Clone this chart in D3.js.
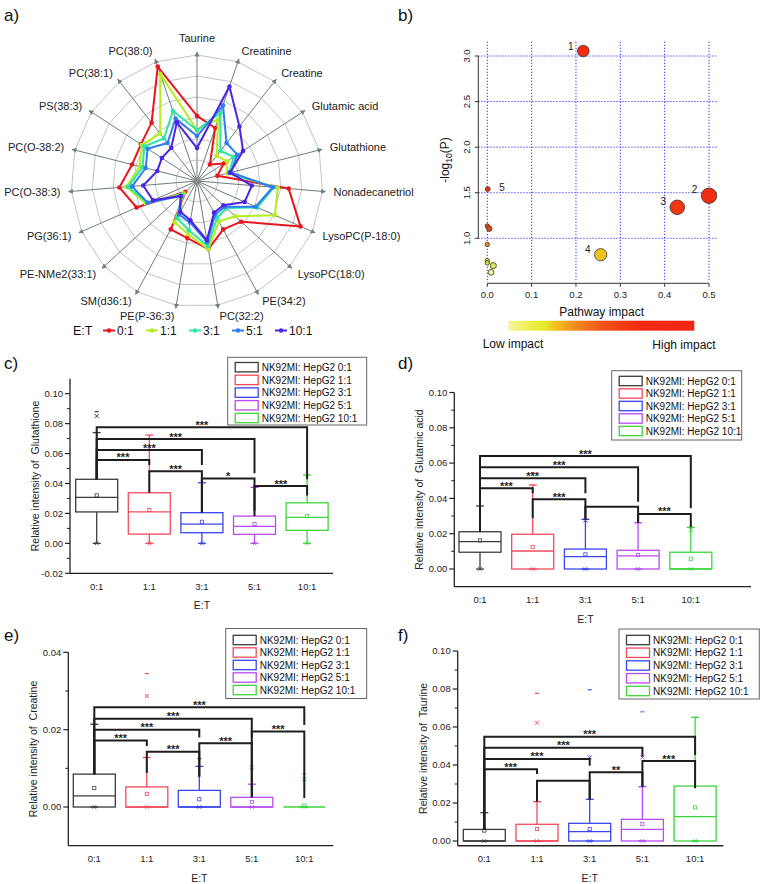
<!DOCTYPE html>
<html><head><meta charset="utf-8">
<script src="https://cdn.jsdelivr.net/npm/d3@7"></script>
<style>
body{margin:0;background:#fff;}
svg{font-family: Arial, "Liberation Sans", sans-serif;}
</style></head><body>
<svg id="chart" width="773" height="884"></svg>
<script>
// ================= DATA =================
// Panel a: radar
const radarAxes = ["Taurine","Creatinine","Creatine","Glutamic acid","Glutathione","Nonadecanetriol","LysoPC(P-18:0)","LysoPC(18:0)","PE(34:2)","PC(32:2)","PE(P-36:3)","SM(d36:1)","PE-NMe2(33:1)","PG(36:1)","PC(O-38:3)","PC(O-38:2)","PS(38:3)","PC(38:1)","PC(38:0)"];
const radarSeriesNames = ["0:1","1:1","3:1","5:1","10:1"];
const radarET01  = [3.10, 2.67, 1.00, 1.52, 1.00, 4.38, 5.38, 2.86, 2.62, 3.29, 2.76, 2.62, 0.76, 3.14, 3.71, 3.19, 3.19, 3.52, 5.76];
const radarET11  = [2.43, 3.10, 1.52, 1.71, 1.48, 3.86, 4.05, 2.48, 2.19, 3.29, 2.57, 2.24, 0.86, 2.67, 3.38, 2.81, 3.14, 2.86, 5.38];
const radarET31  = [2.43, 3.43, 1.81, 2.10, 1.57, 3.67, 3.14, 1.90, 2.00, 3.14, 2.38, 2.00, 0.95, 2.57, 3.29, 2.67, 3.00, 2.57, 3.52];
const radarET51  = [2.14, 3.81, 2.29, 2.29, 1.67, 3.62, 3.05, 1.81, 1.81, 2.95, 2.00, 1.81, 1.05, 2.57, 3.10, 2.52, 2.81, 2.29, 3.14];
const radarET101 = [1.57, 4.76, 3.29, 2.62, 1.62, 2.62, 2.48, 1.71, 1.71, 2.86, 1.90, 1.67, 1.05, 2.29, 2.57, 1.95, 2.00, 2.00, 2.95];

// Panel b: pathway impact bubbles
const pathImpact = [0.2165, 0.5, 0.4285, 0.2557, 0.001, 0, 0.0045, 0, 0, 0, 0.0135, 0.0085];
const pathLogP   = [3.055, 1.467, 1.34, 0.82, 1.54, 1.135, 1.105, 0.933, 0.755, 0.73, 0.70, 0.627];
const pathLabel  = ["1","2","3","4","5","","","","","","",""];
const bXTicks = [0, 0.1, 0.2, 0.3, 0.4, 0.5];
const bYTicks = [1.0, 1.5, 2.0, 2.5, 3.0];

// Box plots (c-f)
const boxCats = ["0:1","1:1","3:1","5:1","10:1"];
const boxGroups = ["NK92MI: HepG2 0:1","NK92MI: HepG2 1:1","NK92MI: HepG2 3:1","NK92MI: HepG2 5:1","NK92MI: HepG2 10:1"];

// c) Glutathione
const gshQ1   = [0.0210, 0.0062, 0.0071, 0.0060, 0.0087];
const gshMed  = [0.0307, 0.0211, 0.0129, 0.0113, 0.0174];
const gshQ3   = [0.0428, 0.0338, 0.0205, 0.0182, 0.0271];
const gshMean = [0.0320, 0.0222, 0.0144, 0.0129, 0.0182];
const gshLow  = [0, 0, 0, 0, 0];
const gshHigh = [0.0740, 0.0724, 0.0405, 0.0374, 0.0456];
const gshOut  = [[0, 0.085, "x"], [0, 0.088, "-"]];
const gshSig  = [[0,1,0.0557,0.0428,0.0523,"***"],[0,2,0.0623,0.0428,0.0523,"***"],[0,3,0.0697,0.0428,0.0468,"***"],[0,4,0.0775,0.0428,0.0428,"***"],[1,2,0.0481,0.0338,0.0205,"***"],[2,3,0.0433,0.0205,0.0220,"*"],[3,4,0.0383,0.0182,0.0320,"***"]];

// d) Glutamic acid
const gluQ1   = [0.0095, 0, 0, 0, 0];
const gluMed  = [0.0155, 0.0102, 0.0070, 0.0074, 0];
const gluQ3   = [0.0211, 0.0197, 0.0113, 0.0106, 0.0095];
const gluMean = [0.0162, 0.0125, 0.0083, 0.0079, 0.0058];
const gluLow  = [0, 0, 0, 0, 0];
const gluHigh = [0.0357, 0.0476, 0.0281, 0.0262, 0.0236];
const gluOut  = [[1, 0.0546, "-"], [2, 0.0275, "x"], [4, 0.0222, "x"]];
const gluSig  = [[0,1,0.0457,0.0211,0.0429,"***"],[0,2,0.0514,0.0211,0.0429,"***"],[0,3,0.0576,0.0211,0.0381,"***"],[0,4,0.0640,0.0211,0.0344,"***"],[1,2,0.0395,0.0287,0.0280,"***"],[2,3,0.0353,0.0280,0.0262,""],[3,4,0.0312,0.0262,0.0236,"***"]];

// e) Creatine
const creQ1   = [0, 0, 0, 0, 0];
const creMed  = [0.0029, 0, 0, 0, 0];
const creQ3   = [0.0085, 0.0052, 0.0043, 0.0025, 0];
const creMean = [0.0049, 0.0034, 0.0020, 0.0013, 0.0004];
const creLow  = [0, 0, 0, 0, 0];
const creHigh = [0.0214, 0.0128, 0.0105, 0.0059, 0];
const creOut  = [[1, 0.0287, "x"], [1, 0.0345, "-"], [2, 0.0125, "-"], [3, 0.0102, "x"], [4, 0.0072, "x"], [4, 0.0086, "-"]];
const creSig  = [[0,1,0.0172,0.0085,0.0158,"***"],[0,2,0.0200,0.0085,0.0180,"***"],[0,3,0.0228,0.0085,0.0180,"***"],[0,4,0.0258,0.0085,0.0212,"***"],[1,2,0.0143,0.0088,0.0078,"***"],[2,3,0.0165,0.0078,0.0025,"***"],[3,4,0.0195,0.0025,0.0023,"***"]];

// f) Taurine
const tauQ1   = [0, 0, 0, 0, 0];
const tauMed  = [0, 0, 0.0049, 0.0061, 0.0128];
const tauQ3   = [0.0061, 0.0088, 0.0093, 0.0114, 0.0289];
const tauMean = [0.0055, 0.0063, 0.0063, 0.0089, 0.0177];
const tauLow  = [0, 0, 0, 0, 0];
const tauHigh = [0.0149, 0.0207, 0.0219, 0.0286, 0.0651];
const tauOut  = [[1, 0.0623, "x"], [1, 0.0777, "-"], [2, 0.0440, "x"], [2, 0.0796, "-"], [3, 0.0440, "x"], [3, 0.0680, "-"]];
const tauSig  = [[0,1,0.0377,0.0061,0.0353,"***"],[0,2,0.0432,0.0061,0.0396,"***"],[0,3,0.0491,0.0061,0.0444,"***"],[0,4,0.0549,0.0061,0.0453,"***"],[1,2,0.0317,0.0207,0.0219,""],[2,3,0.0362,0.0219,0.0286,"**"],[3,4,0.0421,0.0286,0.0277,"***"]];

// ================= STYLE =================
const radarColors = ["#e8161e","#b6ec22","#2ee6a2","#2f7cf2","#4b25e2"];
const boxColors = ["#3c3c3c","#f24a5c","#3a46ee","#b84cf0","#3ed43e"];
const svg = d3.select("#chart");

function panelLetter(t, x, y) {
  svg.append("text").attr("x", x).attr("y", y).attr("font-size", 17).attr("fill", "#111").text(t);
}
panelLetter("a)", 4, 21); panelLetter("b)", 398, 21);
panelLetter("c)", 4, 369); panelLetter("d)", 398, 369);
panelLetter("e)", 4, 641); panelLetter("f)", 398, 641);

// ================= PANEL A: RADAR =================
(function(){
  const cx = 197, cy = 181;
  const r = d3.scaleLinear().domain([0, 6]).range([0, 126]);
  const N = radarAxes.length;
  const ang = i => i * 2 * Math.PI / N;
  const pt = (i, v) => [cx + r(v) * Math.sin(ang(i)), cy - r(v) * Math.cos(ang(i))];
  const g = svg.append("g");
  const defs = svg.append("defs");
  defs.append("marker").attr("id", "arr").attr("viewBox", "0 0 10 10").attr("refX", 9).attr("refY", 5)
    .attr("markerWidth", 5).attr("markerHeight", 5).attr("orient", "auto")
    .append("path").attr("d", "M0,0L10,5L0,10z").attr("fill", "#6e7d7d");
  // rings
  for (let k = 1; k <= 6; k++) {
    g.append("path").attr("d", d3.line()(d3.range(N).map(i => pt(i, k))) + "Z")
      .attr("fill", "none").attr("stroke", "#c4c4c4").attr("stroke-width", 1);
  }
  // axes
  radarAxes.forEach((a, i) => {
    const e = pt(i, r.invert(129));
    g.append("line").attr("x1", cx).attr("y1", cy).attr("x2", e[0]).attr("y2", e[1])
      .attr("stroke", "#6e7d7d").attr("stroke-width", 1).attr("marker-end", "url(#arr)");
    const s = Math.sin(ang(i));
    if (Math.abs(s) < 0.05) {
      const p = pt(i, r.invert(139));
      g.append("text").attr("x", p[0]).attr("y", p[1]).attr("text-anchor", "middle")
        .attr("font-size", 11).attr("fill", "#222").text(a);
    } else {
      const p = pt(i, r.invert(137));
      g.append("text").attr("x", p[0]).attr("y", p[1]).attr("dy", "0.35em")
        .attr("text-anchor", s > 0 ? "start" : "end")
        .attr("font-size", 11).attr("fill", "#222").text(a);
    }
  });
  g.append("circle").attr("cx", cx).attr("cy", cy).attr("r", 3.5).attr("fill", "#8a8a8a");
  const series = [radarET01, radarET11, radarET31, radarET51, radarET101];
  series.forEach((vals, si) => {
    const pts = vals.map((v, i) => pt(i, v));
    g.append("path").attr("d", d3.line().curve(d3.curveLinearClosed)(pts))
      .attr("fill", "none").attr("stroke", radarColors[si]).attr("stroke-width", 2)
      .attr("stroke-linejoin", "round");
    g.selectAll(null).data(pts).enter().append("circle")
      .attr("cx", d => d[0]).attr("cy", d => d[1]).attr("r", 2.3).attr("fill", radarColors[si]);
  });
  // legend
  const lg = svg.append("g");
  lg.append("text").attr("x", 73).attr("y", 335).attr("font-size", 12.5).attr("fill", "#111").text("E:T");
  radarSeriesNames.forEach((n, i) => {
    const x0 = 103 + i * 43;
    lg.append("line").attr("x1", x0).attr("x2", x0 + 12).attr("y1", 330.5).attr("y2", 330.5)
      .attr("stroke", radarColors[i]).attr("stroke-width", 2);
    lg.append("circle").attr("cx", x0 + 6).attr("cy", 330.5).attr("r", 2.2).attr("fill", radarColors[i]);
    lg.append("text").attr("x", x0 + 14).attr("y", 335).attr("font-size", 12).attr("fill", "#111").text(n);
  });
})();

// ================= PANEL B: PATHWAY =================
(function(){
  const g = svg.append("g");
  const x = d3.scaleLinear().domain([0, 0.5]).range([487.3, 709]);
  const y = d3.scaleLinear().domain([1, 3]).range([238.3, 56]);
  const gx0 = 478.3, gx1 = 718.3, gy0 = 41.7, gy1 = 282;
  // grid
  bXTicks.forEach(t => g.append("line").attr("x1", x(t)).attr("x2", x(t)).attr("y1", gy0).attr("y2", gy1)
    .attr("stroke", "#3b3bff").attr("stroke-width", 1).attr("stroke-dasharray", "1.3,1.7"));
  bYTicks.forEach(t => g.append("line").attr("x1", gx0).attr("x2", gx1).attr("y1", y(t)).attr("y2", y(t))
    .attr("stroke", "#3b3bff").attr("stroke-width", 1).attr("stroke-dasharray", "1.3,1.7"));
  // axes
  g.append("line").attr("x1", gx0).attr("x2", gx0).attr("y1", y(1)).attr("y2", y(3)).attr("stroke", "#333");
  bYTicks.forEach(t => {
    g.append("line").attr("x1", gx0 - 3.5).attr("x2", gx0).attr("y1", y(t)).attr("y2", y(t)).attr("stroke", "#333");
    g.append("text").attr("transform", `translate(${gx0 - 8},${y(t)}) rotate(-90)`)
      .attr("text-anchor", "middle").attr("font-size", 9.5).attr("fill", "#222").text(t.toFixed(1));
  });
  const axY = 283.3;
  g.append("line").attr("x1", x(0)).attr("x2", x(0.5)).attr("y1", axY).attr("y2", axY).attr("stroke", "#333");
  bXTicks.forEach(t => {
    g.append("line").attr("x1", x(t)).attr("x2", x(t)).attr("y1", axY).attr("y2", axY + 3.5).attr("stroke", "#333");
    g.append("text").attr("x", x(t)).attr("y", axY + 15).attr("text-anchor", "middle")
      .attr("font-size", 9.5).attr("fill", "#222").text(t.toFixed(1));
  });
  g.append("text").attr("x", 601.7).attr("y", 316).attr("text-anchor", "middle").attr("font-size", 12).attr("fill", "#111").text("Pathway impact");
  const yl = g.append("text").attr("transform", "translate(449,160) rotate(-90)").attr("text-anchor", "middle")
    .attr("font-size", 12).attr("fill", "#111");
  yl.append("tspan").text("-log");
  yl.append("tspan").attr("font-size", 8.5).attr("dy", 3).text("10");
  yl.append("tspan").attr("dy", -3).text("(P)");
  // bubbles
  const col = d3.scaleLinear().domain([0.6, 0.72, 0.8, 0.93, 1.1, 1.5])
    .range(["#f8f7b0", "#d4e43a", "#f2cc22", "#f08a1e", "#ee4a14", "#f42a12"]).clamp(true);
  const rad = d3.scaleSqrt().domain([0, 0.5]).range([2.2, 7.7]);
  const data = pathImpact.map((v, i) => ({x: v, y: pathLogP[i], l: pathLabel[i]}));
  g.selectAll(null).data(data).enter().append("circle")
    .attr("cx", d => x(d.x)).attr("cy", d => y(d.y)).attr("r", d => rad(d.x))
    .attr("fill", d => col(d.y)).attr("stroke", "#333").attr("stroke-width", 0.8);
  data.filter(d => d.l).forEach(d => {
    const rr = rad(d.x);
    const left = d.x > 0.05;
    g.append("text").attr("x", left ? x(d.x) - rr - 4 : x(d.x) + rr + 9).attr("y", y(d.y) - rr + 4.5)
      .attr("text-anchor", left ? "end" : "start").attr("font-size", 10).attr("fill", "#222").text(d.l);
  });
  // colour bar
  const defs = svg.append("defs");
  const lgd = defs.append("linearGradient").attr("id", "impactGrad");
  [[0, "#f6f6a0"], [0.12, "#ecee4a"], [0.2, "#e6e82a"], [0.24, "#f2c822"], [0.36, "#f08c20"], [0.5, "#f25518"], [0.7, "#f42c12"], [1, "#f42414"]]
    .forEach(s => lgd.append("stop").attr("offset", s[0]).attr("stop-color", s[1]));
  g.append("rect").attr("x", 508.3).attr("y", 320.7).attr("width", 186).attr("height", 10).attr("fill", "url(#impactGrad)");
  g.append("text").attr("x", 513).attr("y", 347.5).attr("text-anchor", "middle").attr("font-size", 12).attr("fill", "#111").text("Low impact");
  g.append("text").attr("x", 684).attr("y", 348.5).attr("text-anchor", "middle").attr("font-size", 12).attr("fill", "#111").text("High impact");
})();

// ================= BOX PANELS =================
function boxPanel(o) {
  const g = svg.append("g");
  const y = d3.scaleLinear().domain(o.yDomain).range(o.yRange);
  const x = d3.scalePoint().domain(boxCats).range([o.firstX, o.firstX + 4 * o.step]);
  const yb = o.yRange[0];
  const ax = o.axisX;
  g.append("line").attr("x1", ax).attr("x2", ax).attr("y1", o.yRange[0]).attr("y2", o.yRange[1])
    .attr("stroke", "#222").attr("stroke-width", 1.3);
  g.append("line").attr("x1", ax).attr("x2", o.axisRight).attr("y1", yb).attr("y2", yb)
    .attr("stroke", "#222").attr("stroke-width", 1.3);
  o.major.forEach(t => {
    g.append("line").attr("x1", ax - 5).attr("x2", ax).attr("y1", y(t)).attr("y2", y(t)).attr("stroke", "#222").attr("stroke-width", 1.2);
    g.append("text").attr("x", ax - 7).attr("y", y(t) + 3.3).attr("text-anchor", "end")
      .attr("font-size", 9.5).attr("fill", "#222").text(t.toFixed(2));
  });
  o.minor.forEach(t => g.append("line").attr("x1", ax - 3).attr("x2", ax).attr("y1", y(t)).attr("y2", y(t)).attr("stroke", "#222").attr("stroke-width", 1));
  boxCats.forEach(c => g.append("text").attr("x", x(c)).attr("y", yb + 16.5).attr("text-anchor", "middle")
    .attr("font-size", 9.5).attr("fill", "#222").text(c));
  g.append("text").attr("x", (o.firstX + o.firstX + 4 * o.step) / 2).attr("y", yb + 36).attr("text-anchor", "middle")
    .attr("font-size", 10.5).attr("fill", "#222").text("E:T");
  g.append("text").attr("transform", `translate(${ax - 31},${(o.yRange[0] + o.yRange[1]) / 2}) rotate(-90)`)
    .attr("text-anchor", "middle").attr("font-size", 10.5).attr("fill", "#222")
    .style("white-space", "pre").text(o.ylabel);
  const bw = 42, cap = 4;
  boxCats.forEach((c, i) => {
    const cx = x(c), colr = boxColors[i];
    const bg = g.append("g").attr("stroke", colr).attr("fill", "none").attr("stroke-width", 1.3);
    bg.append("line").attr("x1", cx).attr("x2", cx).attr("y1", y(o.q3[i])).attr("y2", y(o.high[i]));
    bg.append("line").attr("x1", cx).attr("x2", cx).attr("y1", y(o.q1[i])).attr("y2", y(o.low[i]));
    bg.append("line").attr("x1", cx - cap).attr("x2", cx + cap).attr("y1", y(o.high[i])).attr("y2", y(o.high[i]));
    bg.append("line").attr("x1", cx - cap).attr("x2", cx + cap).attr("y1", y(o.low[i])).attr("y2", y(o.low[i]));
    bg.append("rect").attr("x", cx - bw / 2).attr("width", bw).attr("y", y(o.q3[i]))
      .attr("height", Math.max(0, y(o.q1[i]) - y(o.q3[i]))).attr("fill", "none");
    bg.append("line").attr("x1", cx - bw / 2).attr("x2", cx + bw / 2).attr("y1", y(o.med[i])).attr("y2", y(o.med[i]));
    bg.append("rect").attr("x", cx - 1.6).attr("y", y(o.mean[i]) - 1.6).attr("width", 3.2).attr("height", 3.2).attr("stroke-width", 0.8);
    // minimum marker
    const ym = y(o.low[i]);
    bg.append("path").attr("d", `M${cx - 1.8},${ym - 1.8}L${cx + 1.8},${ym + 1.8}M${cx - 1.8},${ym + 1.8}L${cx + 1.8},${ym - 1.8}`).attr("stroke-width", 0.9);
  });
  o.outliers.forEach(d => {
    const cx = x(boxCats[d[0]]), yy = y(d[1]), colr = boxColors[d[0]];
    if (d[2] === "x") {
      g.append("path").attr("d", `M${cx - 2},${yy - 2}L${cx + 2},${yy + 2}M${cx - 2},${yy + 2}L${cx + 2},${yy - 2}`)
        .attr("stroke", colr).attr("stroke-width", 1);
    } else {
      g.append("line").attr("x1", cx - 2).attr("x2", cx + 2).attr("y1", yy).attr("y2", yy).attr("stroke", colr).attr("stroke-width", 1.2);
    }
  });
  o.sig.forEach(s => {
    const x1 = x(boxCats[s[0]]), x2 = x(boxCats[s[1]]);
    g.append("path").attr("d", `M${x1},${y(s[3])}V${y(s[2])}H${x2}V${y(s[4])}`)
      .attr("fill", "none").attr("stroke", "#1e1e1e").attr("stroke-width", 2);
    if (s[5]) g.append("text").attr("x", (x1 + x2) / 2).attr("y", y(s[2]) + 1.5).attr("text-anchor", "middle")
      .attr("font-size", 11).attr("font-weight", "bold").attr("fill", "#1e1e1e").text(s[5]);
  });
  // legend
  const L = o.legend;
  const lg = svg.append("g");
  lg.append("rect").attr("x", L.x).attr("y", L.y).attr("width", L.w).attr("height", L.h)
    .attr("fill", "#fff").attr("stroke", "#666").attr("stroke-width", 1);
  boxGroups.forEach((n, i) => {
    const ry = L.row0 + i * L.rowStep;
    lg.append("rect").attr("x", L.x + 7.5).attr("y", ry - 4.7).attr("width", 23).attr("height", 9.4)
      .attr("fill", "none").attr("stroke", boxColors[i]).attr("stroke-width", 1.3);
    lg.append("text").attr("x", L.x + 34).attr("y", ry + 3.6).attr("font-size", 10).attr("fill", "#111").text(n);
  });
}

boxPanel({yDomain: [-0.02, 0.11], yRange: [573.3, 378.7], axisX: 70, axisRight: 333, firstX: 96.7, step: 52.6,
  major: [-0.02, 0, 0.02, 0.04, 0.06, 0.08, 0.10], minor: [-0.01, 0.01, 0.03, 0.05, 0.07, 0.09],
  ylabel: "Relative intensity of  Glutathione",
  q1: gshQ1, med: gshMed, q3: gshQ3, mean: gshMean, low: gshLow, high: gshHigh, outliers: gshOut, sig: gshSig,
  legend: {x: 227.7, y: 357.3, w: 139, h: 67.7, row0: 367.2, rowStep: 12.7}});

boxPanel({yDomain: [-0.01, 0.10], yRange: [586.65, 392.5], axisX: 454.3, axisRight: 751, firstX: 480, step: 52.7,
  major: [0, 0.02, 0.04, 0.06, 0.08, 0.10], minor: [0.01, 0.03, 0.05, 0.07, 0.09],
  ylabel: "Relative intensity of  Glutamic acid",
  q1: gluQ1, med: gluMed, q3: gluQ3, mean: gluMean, low: gluLow, high: gluHigh, outliers: gluOut, sig: gluSig,
  legend: {x: 611.7, y: 370.7, w: 130, h: 69.3, row0: 381, rowStep: 12.5}});

boxPanel({yDomain: [-0.01, 0.04], yRange: [845.7, 652.3], axisX: 68.3, axisRight: 333.3, firstX: 94.3, step: 52.5,
  major: [0, 0.02, 0.04], minor: [0.01, 0.03],
  ylabel: "Relative intensity of  Creatine",
  q1: creQ1, med: creMed, q3: creQ3, mean: creMean, low: creLow, high: creHigh, outliers: creOut, sig: creSig,
  legend: {x: 225.7, y: 628.5, w: 141, h: 70, row0: 640, rowStep: 12.5}});

boxPanel({yDomain: [-0.0025, 0.10], yRange: [845.75, 651], axisX: 457.7, axisRight: 723.3, firstX: 484.3, step: 52.7,
  major: [0, 0.02, 0.04, 0.06, 0.08, 0.10], minor: [0.01, 0.03, 0.05, 0.07, 0.09],
  ylabel: "Relative intensity of  Taurine",
  q1: tauQ1, med: tauMed, q3: tauQ3, mean: tauMean, low: tauLow, high: tauHigh, outliers: tauOut, sig: tauSig,
  legend: {x: 619, y: 629, w: 140.3, h: 70, row0: 640, rowStep: 12.75}});
</script>
</body></html>
